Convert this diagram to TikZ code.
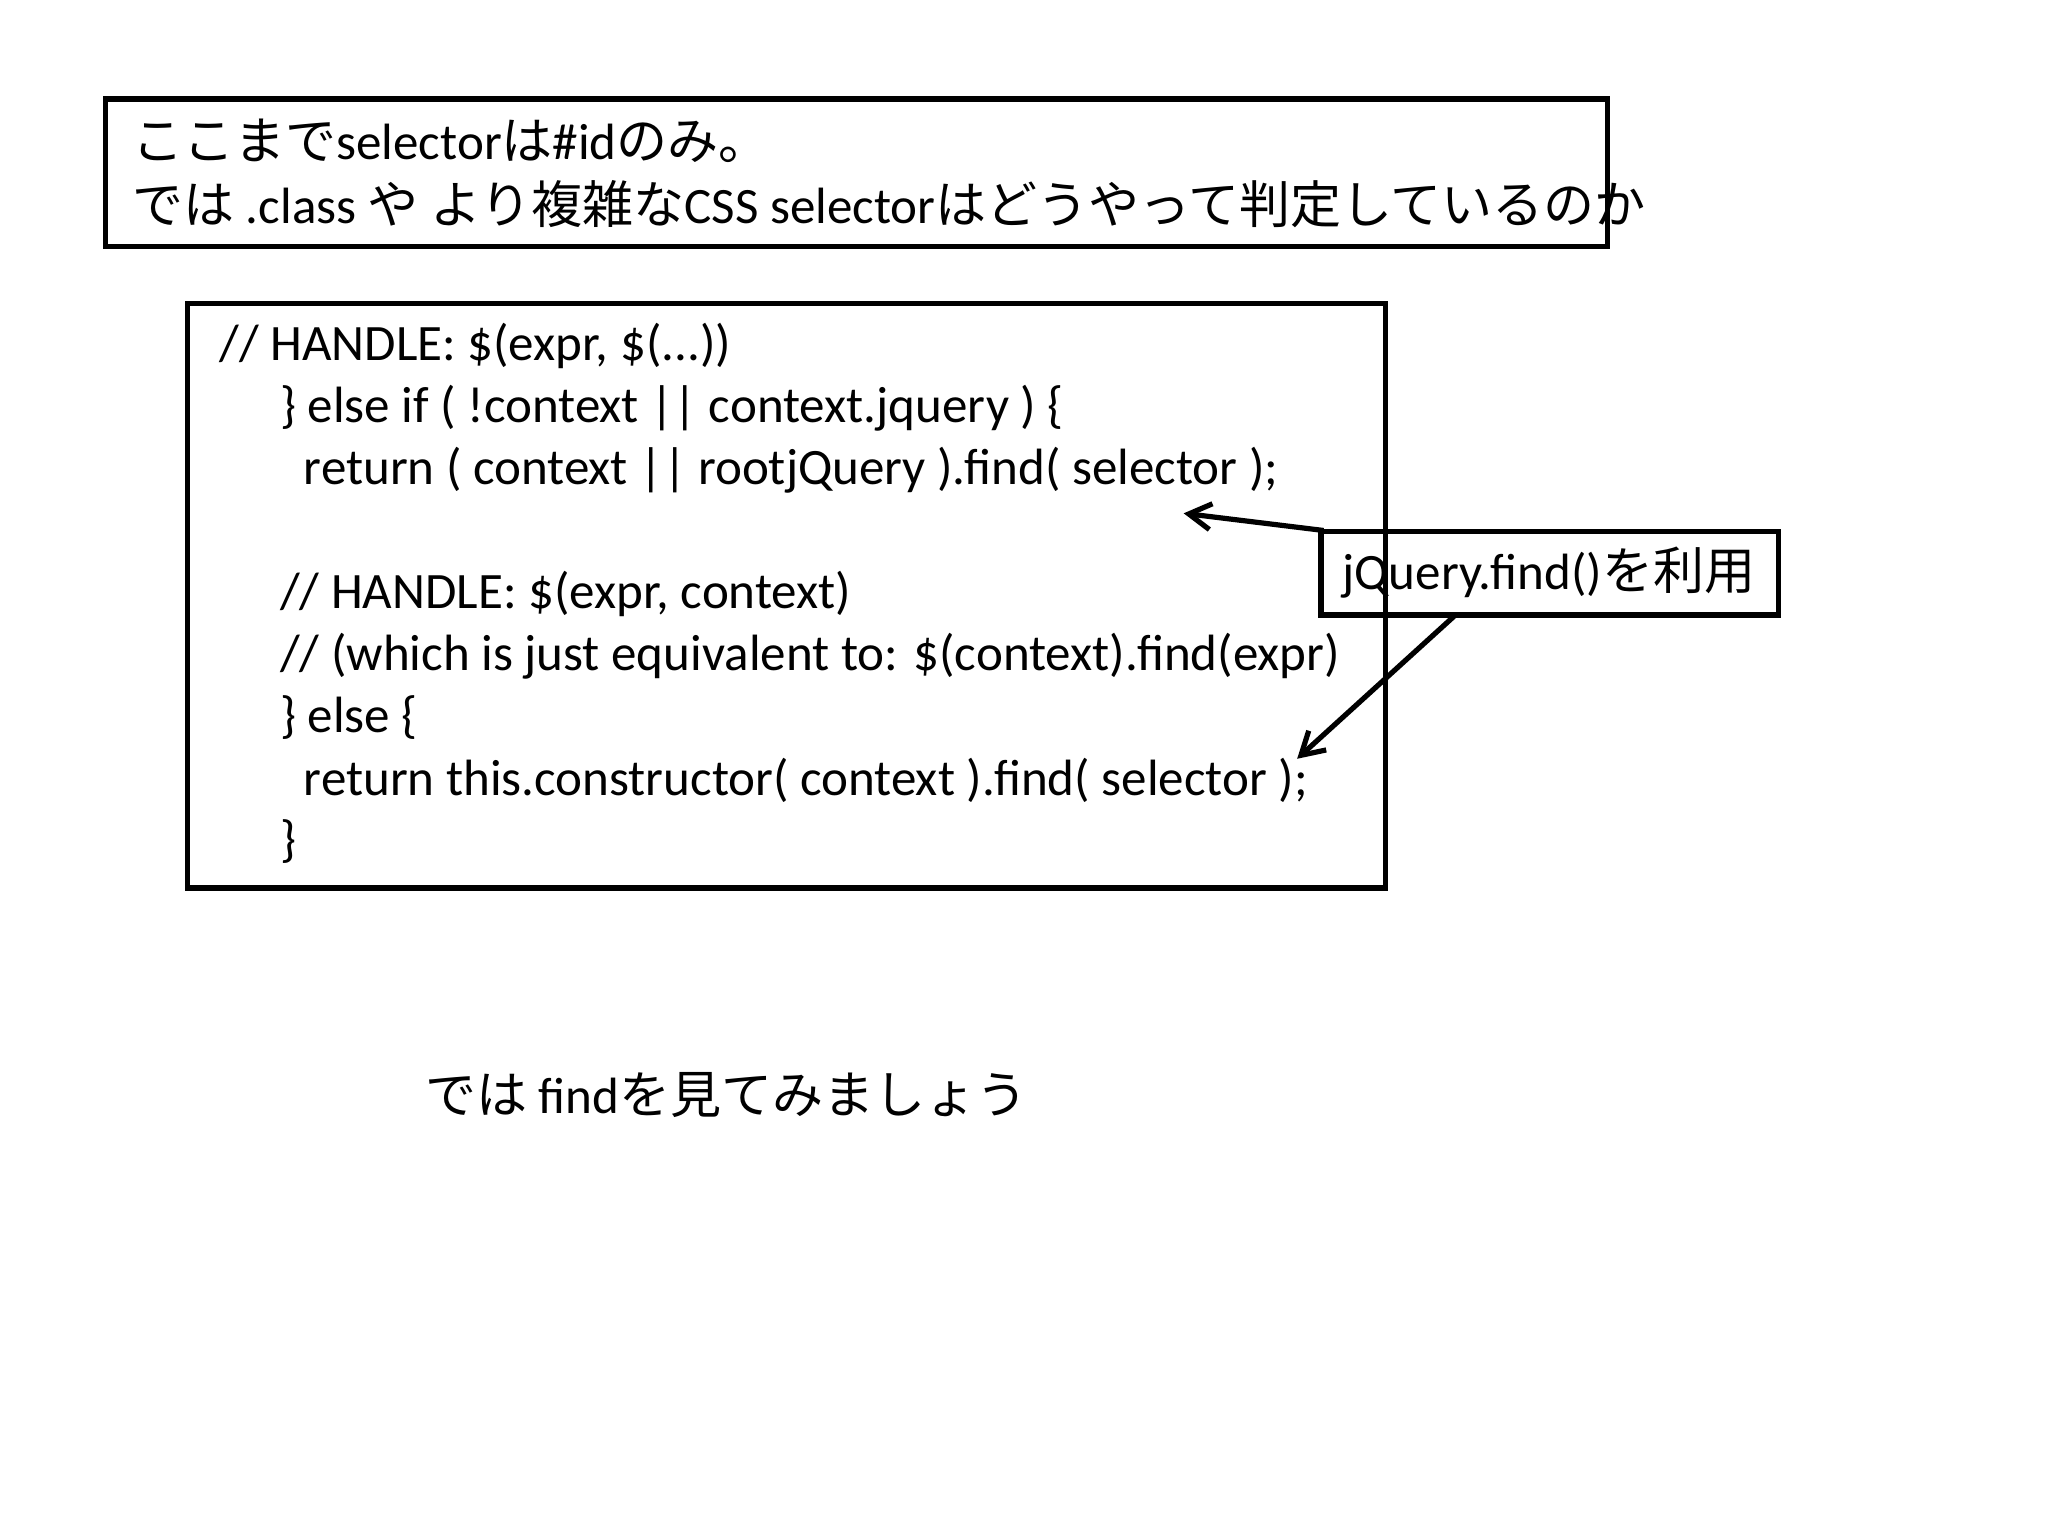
\documentclass[tikz,border=0pt]{standalone}
\usepackage{fontspec}
\usetikzlibrary{arrows.meta}
\setmainfont{Carlito}
\newfontfamily\cjk{Noto Sans CJK JP}
\newcommand{\jp}[1]{{\cjk #1}}
\begin{document}
\begin{tikzpicture}[x=0.025cm,y=-0.025cm,
  box/.style={draw,line width=2.8pt},
  txt/.style={anchor=west,inner sep=0,font=\fontsize{27.5}{30}\selectfont},
  arr/.style={line width=2.8pt,-{Straight Barb[length=12pt,width=14pt,line width=2.8pt]}}]
\useasboundingbox (0,0) rectangle (1552,1164);
\draw[box] (80,75) rectangle (1218,187);
\node[txt] (t1) at (100,107) {\jp{ここまで}selector\jp{は}\#id\jp{のみ。}};
\node[txt] (t2) at (100,155) {\jp{では} .class \jp{や より複雑な}CSS selector\jp{はどうやって判定しているのか}};
\draw[box] (142,230) rectangle (1050,673);
\node[txt] (c1) at (166,262) {// HANDLE: \$(expr, \$(...))};
\node[txt] (c2) at (212,309) {\} else if ( !context || context.jquery ) \{};
\node[txt] (c3) at (230,356) {return ( context || rootjQuery ).find( selector );};
\node[txt] (c4) at (212,450) {// HANDLE: \$(expr, context)};
\node[txt] (c5) at (212,497) {// (which is just equivalent to: \$(context).find(expr)};
\node[txt] (c6) at (212,544) {\} else \{};
\node[txt] (c7) at (230,591) {return this.constructor( context ).find( selector );};
\node[txt] (c8) at (212,638) {\}};
\draw[box] (1001,403) rectangle (1348,466);
\node[txt] (jt) at (1017,434) {jQuery.find()\jp{を利用}};
\coordinate (a1) at (1003,402);
\coordinate (a1e) at (897,389);
\coordinate (a2) at (1103,466);
\coordinate (a2e) at (983,575);
\draw[arr] (a1) -- (a1e);
\draw[arr] (a2) -- (a2e);
\node[txt] (b) at (322,830) {\jp{では} find\jp{を見てみましょう}};
\end{tikzpicture}
\end{document}
